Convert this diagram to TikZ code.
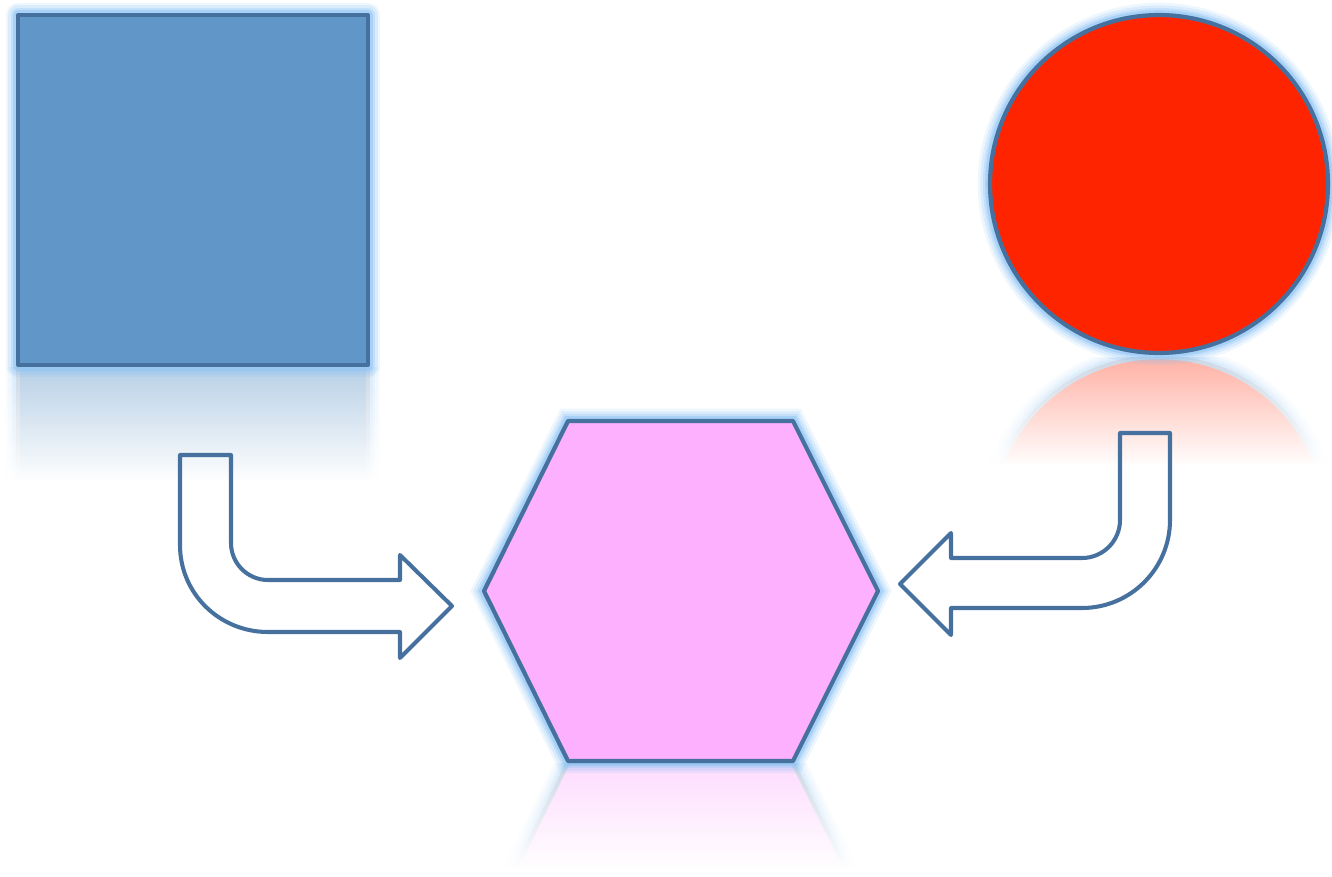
\documentclass[tikz,border=0pt]{standalone}
\usepackage{tikz}
\usetikzlibrary{shapes.geometric, fadings}
\definecolor{edgeblue}{RGB}{70,112,158}
\definecolor{glowblue}{RGB}{140,195,245}
\definecolor{boxblue}{RGB}{96,150,200}
\definecolor{ballred}{RGB}{255,36,0}
\definecolor{hexpink}{RGB}{253,176,253}
\tikzfading[name=whiteout, top color=transparent!45, bottom color=transparent!0]
\tikzstyle{glow} = [preaction={draw=glowblue, line width=14pt, opacity=0.15},
                    preaction={draw=glowblue, line width=11pt, opacity=0.2},
                    preaction={draw=glowblue, line width=8pt, opacity=0.3},
                    preaction={draw=glowblue, line width=5.5pt, opacity=0.5}]
\tikzstyle{Shape} = [draw=edgeblue, line width=2.4pt, inner sep=0pt, outer sep=0pt, line join=round, glow]
\tikzstyle{Box} = [Shape, rectangle, fill=boxblue, minimum size=7cm]
\tikzstyle{Ball} = [Shape, circle, fill=ballred, minimum size=6.76cm]
\tikzstyle{Refl} = [draw=edgeblue!60, line width=2.4pt, glow]
\tikzstyle{Fade} = [fill=white, path fading=whiteout]
\tikzstyle{Bent} = [draw=edgeblue, line width=2.3pt, line join=round]

\begin{document}
\begin{tikzpicture}
    [x=0.02cm, y=-0.02cm]
    \useasboundingbox (0,0) rectangle (1332,876);

    %% Reflections
    \begin{scope}
        \clip (0,367) rectangle (392,484);
        \draw [Refl, fill=boxblue] (18,367) rectangle (368,717);
    \end{scope}
    \begin{scope}
        \clip (970,357) rectangle (1332,468);
        \draw [Refl, fill=ballred!80] (1159,526) circle (3.38cm);
    \end{scope}
    \begin{scope}
        \clip (470,763) rectangle (892,872);
        \draw [Refl, fill=hexpink] (568,763) -- (793,763) -- (878,933) -- (484,933) -- cycle;
    \end{scope}
    \fill [Fade] (0,366) rectangle (392,482);
    \fill [white] (0,481) rectangle (392,492);
    \fill [Fade] (970,356) rectangle (1332,466);
    \fill [white] (970,465) rectangle (1332,472);
    \fill [Fade] (470,762) rectangle (892,870);
    \fill [white] (470,869) rectangle (892,876);

    %% Shapes
    \node [Box] (box) at (193,190) {};
    \node [Ball] (ball) at (1159,184) {};
    \coordinate (hexa) at (681,591);
    \draw [Shape, fill=hexpink] (568,421) -- (793,421) -- (878,591) -- (793,761) -- (568,761) -- (484,591) -- cycle;

    %% Bent arrows
    \draw [Bent] (180,455) -- (180,545) .. controls (180,593.6) and (219.4,632) .. (268,632)
        -- (400,632) -- (400,658) -- (452,606) -- (400,555) -- (400,580) -- (268,580)
        .. controls (247.6,580) and (231,563.4) .. (231,543) -- (231,455) -- cycle;
    \draw [Bent] (1120,433) -- (1170,433) -- (1170,520) .. controls (1170,568.6) and (1130.6,608) .. (1082,608)
        -- (951,608) -- (951,635) -- (900,584) -- (951,533) -- (951,558) -- (1082,558)
        .. controls (1103,558) and (1120,541) .. (1120,520) -- cycle;

\end{tikzpicture}
\end{document}
